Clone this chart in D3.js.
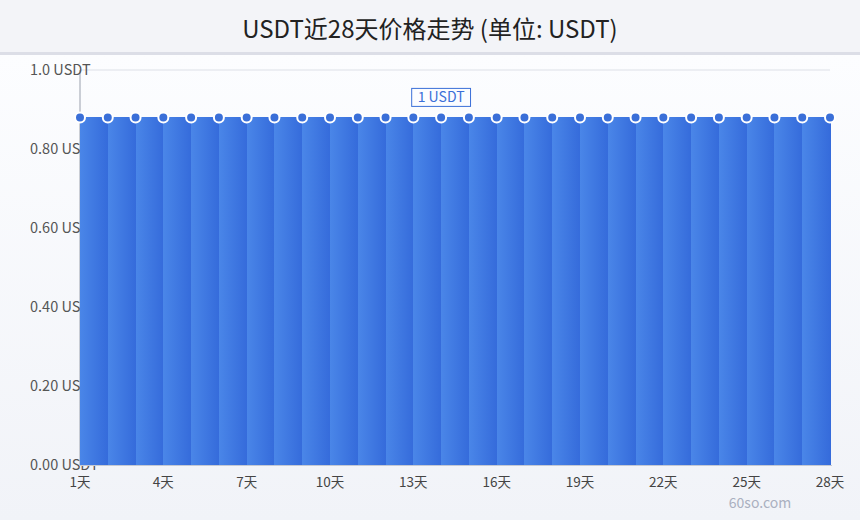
<!DOCTYPE html>
<html><head><meta charset="utf-8">
<script src="https://cdn.jsdelivr.net/npm/d3@7"></script>
<style>html,body{margin:0;padding:0;background:#f3f4f8;}svg{display:block;font-family:"Noto Sans CJK SC","Noto Sans",sans-serif;}</style>
</head><body>
<svg id="c" width="860" height="520"></svg>
<script>
const days = d3.range(1, 29).map(d => d + "天");
const prices = [0.88,0.88,0.88,0.88,0.88,0.88,0.88,0.88,0.88,0.88,0.88,0.88,0.88,0.88,0.88,0.88,0.88,0.88,0.88,0.88,0.88,0.88,0.88,0.88,0.88,0.88,0.88,0.88];
const yTicks = [0, 0.2, 0.4, 0.6, 0.8, 1.0];
const yTickLabels = ["0.00 USDT","0.20 USDT","0.40 USDT","0.60 USDT","0.80 USDT","1.0 USDT"];
const xTickLabels = ["1天","4天","7天","10天","13天","16天","19天","22天","25天","28天"];
const title = "USDT近28天价格走势 (单位: USDT)";
const labelIndex = 13;
const labelText = "1 USDT";
const watermark = "60so.com";

const svg = d3.select("#c");
const W = 860, H = 520;
const m = {l: 80, r: 30, t: 70, b: 55};

const defs = svg.append("defs");
const bg = defs.append("linearGradient").attr("id","bg").attr("x1",0).attr("y1",0).attr("x2",0).attr("y2",1);
bg.append("stop").attr("offset","0%").attr("stop-color","#fcfdff");
bg.append("stop").attr("offset","100%").attr("stop-color","#f1f3f8");
const bar = defs.append("linearGradient").attr("id","bar").attr("x1",0).attr("y1",0).attr("x2",1).attr("y2",0);
bar.append("stop").attr("offset","0%").attr("stop-color","#4a86e8");
bar.append("stop").attr("offset","100%").attr("stop-color","#356bdb");

svg.append("rect").attr("width",W).attr("height",52).attr("fill","#f3f4f8");
svg.append("rect").attr("y",52).attr("width",W).attr("height",3).attr("fill","#dcdee7");
svg.append("rect").attr("y",55).attr("width",W).attr("height",H-55).attr("fill","url(#bg)");

svg.append("text").attr("x",W/2).attr("y",38).attr("text-anchor","middle")
  .attr("font-size",24).attr("fill","#222").text(title);

const x = d3.scalePoint().domain(days).range([m.l, W - m.r]);
const y = d3.scaleLinear().domain([0, 1]).range([H - m.b, m.t]);

// grid
svg.append("g").selectAll("line").data(yTicks).join("line")
  .attr("x1", m.l).attr("x2", W - m.r)
  .attr("y1", d => y(d)).attr("y2", d => y(d))
  .attr("stroke", "#dde0e7").attr("stroke-width", 1);
// y axis line
svg.append("line").attr("x1",m.l).attr("x2",m.l).attr("y1",y(1)).attr("y2",y(0))
  .attr("stroke","#9aa0ad").attr("stroke-width",1);

// y labels
svg.append("g").selectAll("text").data(yTicks).join("text")
  .attr("x", 30).attr("y", d => y(d)).attr("dy","0.35em")
  .attr("font-size",14.5).attr("fill","#555").text((d,i) => yTickLabels[i]);

// bars between consecutive points
const segs = prices.slice(0, -1).map((v, i) => ({i, v}));
svg.append("g").attr("shape-rendering","crispEdges").selectAll("rect").data(segs).join("rect")
  .attr("x", d => x(days[d.i]))
  .attr("width", d => x(days[d.i+1]) - x(days[d.i]) + 0.5)
  .attr("y", d => y(d.v))
  .attr("height", d => y(0) - y(d.v))
  .attr("fill","url(#bar)");

// bottom axis line
svg.append("line").attr("x1",m.l).attr("x2",W - m.r + 2).attr("y1",y(0)+0.5).attr("y2",y(0)+0.5)
  .attr("stroke","#c5c9d2").attr("stroke-width",1);

// x labels
svg.append("g").selectAll("text").data(xTickLabels).join("text")
  .attr("x", d => x(d)).attr("y", 487).attr("text-anchor","middle")
  .attr("font-size",13.5).attr("fill","#444").text(d => d);

// markers
svg.append("g").selectAll("circle").data(prices).join("circle")
  .attr("cx", (d,i) => x(days[i])).attr("cy", d => y(d)).attr("r", 5)
  .attr("fill","#3a6fd8").attr("stroke","#fff").attr("stroke-width",2);

// value label
const lx = x(days[labelIndex]), ly = y(prices[labelIndex]) - 20;
const lg = svg.append("g");
const lt = lg.append("text").attr("x", lx).attr("y", ly).attr("dy","0.35em").attr("text-anchor","middle")
  .attr("font-size",14).attr("fill","#3a6fd8").text(labelText);
const bb = lt.node().getBBox();
lg.insert("rect","text").attr("x", bb.x - 6).attr("y", ly - 9).attr("width", bb.width + 12).attr("height", 18)
  .attr("fill","#fbfcff").attr("stroke","#3a6fd8").attr("stroke-width",1);

svg.append("text").attr("x",760).attr("y",508).attr("text-anchor","middle")
  .attr("font-size",14).attr("fill","#aab0c0").text(watermark);
</script>
</body></html>
